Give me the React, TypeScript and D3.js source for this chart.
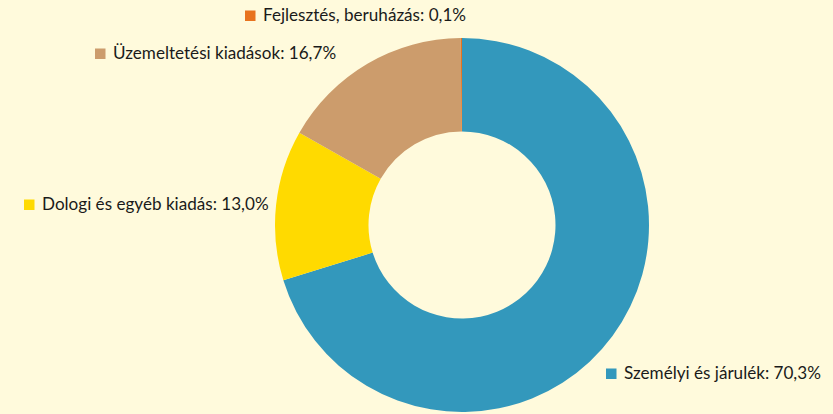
import React from "react";
import * as d3 from "d3";

const categories = [
  "Személyi és járulék",
  "Dologi és egyéb kiadás",
  "Üzemeltetési kiadások",
  "Fejlesztés, beruházás",
];
const values = [70.3, 13.0, 16.7, 0.1];
const valueLabels = ["70,3%", "13,0%", "16,7%", "0,1%"];
const colors = ["#3398BC", "#FFDA00", "#CC9C6C", "#E8731E"];

// label anchor positions (square left x, text baseline y)
const labelPos = [
  { x: 606, y: 379 },
  { x: 24, y: 210 },
  { x: 95, y: 59 },
  { x: 245, y: 21 },
];

const W = 833;
const H = 414;
const cx = 462;
const cy = 225;
const outerR = 187;
const innerR = 93.5;

export default function App() {
  const pie = d3
    .pie<number>()
    .sort(null)
    .value((d) => d)
    .startAngle(0)
    .endAngle(2 * Math.PI);
  const arcs = pie(values);
  const arc = d3.arc<d3.PieArcDatum<number>>().innerRadius(innerR).outerRadius(outerR);

  return (
    <svg
      width={W}
      height={H}
      style={{ position: "absolute", left: 0, top: 0, display: "block" }}
    >
      <rect x={0} y={0} width={W} height={H} fill="#FFFADC" />
      <g transform={`translate(${cx},${cy})`}>
        {arcs.map((a, i) => (
          <path key={i} d={arc(a) || ""} fill={colors[i]} />
        ))}
      </g>
      {categories.map((c, i) => (
        <g key={c}>
          <rect
            x={labelPos[i].x}
            y={labelPos[i].y - 10.5}
            width={10.5}
            height={10.5}
            fill={colors[i]}
          />
          <text
            x={labelPos[i].x + 18}
            y={labelPos[i].y}
            fontFamily="Lato, 'Noto Sans', sans-serif"
            fontSize={17.1}
            fill="#1A1A1A"
          >
            {`${c}: ${valueLabels[i]}`}
          </text>
        </g>
      ))}
    </svg>
  );
}
